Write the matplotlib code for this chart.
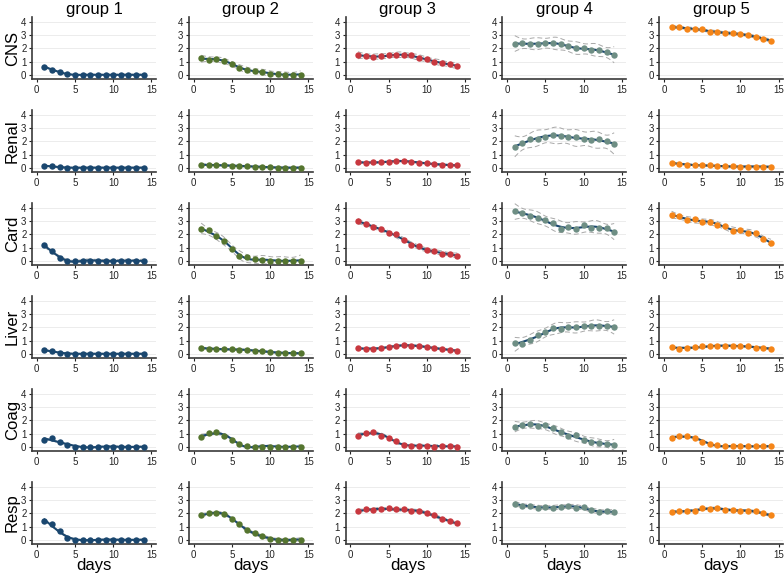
import numpy as np
import matplotlib
matplotlib.use("Agg")
import matplotlib.pyplot as plt

plt.rcParams['font.family'] = ['Liberation Sans', 'DejaVu Sans']

days = np.arange(1, 15)
groups = ['group 1', 'group 2', 'group 3', 'group 4', 'group 5']
organs = ['CNS', 'Renal', 'Card', 'Liver', 'Coag', 'Resp']
point_colors = ['#1a476f', '#55752f', '#c8383f', '#6e8e84', '#f58518']
fit_color = '#1a476f'

# mean score per day, one list per group, rows in the order of `organs`
g1 = [
    [0.62, 0.40, 0.22, 0.07, 0.01, 0.01, 0.01, 0.01, 0.01, 0.01, 0.01, 0.01, 0.01, 0.01],
    [0.16, 0.13, 0.05, 0.03, 0.02, 0.02, 0.02, 0.02, 0.02, 0.02, 0.02, 0.02, 0.02, 0.02],
    [1.18, 0.72, 0.22, 0.03, 0.01, 0.01, 0.01, 0.01, 0.01, 0.01, 0.01, 0.01, 0.01, 0.01],
    [0.28, 0.20, 0.10, 0.03, 0.02, 0.01, 0.01, 0.01, 0.01, 0.01, 0.01, 0.01, 0.01, 0.01],
    [0.50, 0.70, 0.40, 0.12, 0.01, 0.01, 0.01, 0.01, 0.01, 0.01, 0.01, 0.01, 0.01, 0.01],
    [1.42, 1.22, 0.65, 0.15, 0.01, 0.01, 0.01, 0.01, 0.01, 0.01, 0.01, 0.01, 0.01, 0.01],
]
g2 = [
    [1.25, 1.15, 1.20, 1.08, 0.82, 0.55, 0.40, 0.30, 0.22, 0.10, 0.06, 0.03, 0.03, 0.03],
    [0.25, 0.22, 0.20, 0.20, 0.18, 0.15, 0.12, 0.10, 0.08, 0.05, 0.03, 0.02, 0.02, 0.02],
    [2.38, 2.30, 1.90, 1.50, 0.90, 0.40, 0.28, 0.13, 0.05, 0.03, 0.03, 0.03, 0.03, 0.03],
    [0.45, 0.40, 0.38, 0.35, 0.35, 0.32, 0.30, 0.25, 0.20, 0.15, 0.10, 0.08, 0.05, 0.05],
    [0.72, 1.08, 1.12, 0.85, 0.50, 0.20, 0.07, 0.03, 0.03, 0.03, 0.03, 0.03, 0.03, 0.03],
    [1.85, 2.02, 2.05, 1.95, 1.60, 1.18, 0.72, 0.55, 0.28, 0.05, 0.02, 0.02, 0.02, 0.02],
]
g3 = [
    [1.52, 1.40, 1.38, 1.40, 1.52, 1.48, 1.48, 1.50, 1.28, 1.19, 0.98, 0.93, 0.81, 0.67],
    [0.42, 0.40, 0.42, 0.45, 0.45, 0.50, 0.55, 0.45, 0.40, 0.35, 0.30, 0.25, 0.20, 0.20],
    [3.00, 2.80, 2.60, 2.38, 2.12, 2.00, 1.56, 1.20, 1.10, 0.82, 0.74, 0.56, 0.49, 0.41],
    [0.45, 0.35, 0.40, 0.45, 0.55, 0.60, 0.65, 0.60, 0.60, 0.55, 0.45, 0.35, 0.30, 0.25],
    [0.85, 1.07, 1.15, 0.82, 0.68, 0.42, 0.17, 0.10, 0.10, 0.10, 0.03, 0.08, 0.05, 0.03],
    [2.15, 2.35, 2.28, 2.30, 2.38, 2.30, 2.30, 2.18, 2.18, 2.05, 1.85, 1.58, 1.40, 1.25],
]
g4 = [
    [2.35, 2.40, 2.35, 2.33, 2.42, 2.40, 2.30, 2.20, 2.00, 2.02, 1.90, 1.85, 1.70, 1.52],
    [1.60, 1.85, 2.22, 2.20, 2.30, 2.50, 2.45, 2.35, 2.30, 2.18, 2.10, 2.15, 2.02, 1.80],
    [3.74, 3.64, 3.36, 3.23, 3.10, 2.87, 2.41, 2.56, 2.41, 2.72, 2.51, 2.49, 2.49, 2.18],
    [0.83, 0.76, 1.05, 1.43, 1.62, 1.95, 1.88, 2.00, 2.00, 2.14, 2.10, 2.14, 2.10, 2.05],
    [1.52, 1.65, 1.72, 1.58, 1.62, 1.40, 1.10, 0.82, 0.87, 0.52, 0.40, 0.28, 0.25, 0.15],
    [2.72, 2.60, 2.55, 2.45, 2.50, 2.42, 2.50, 2.58, 2.42, 2.48, 2.25, 2.12, 2.15, 2.12],
]
g5 = [
    [3.62, 3.60, 3.50, 3.45, 3.45, 3.28, 3.25, 3.15, 3.15, 3.08, 2.98, 2.90, 2.72, 2.60],
    [0.38, 0.30, 0.25, 0.22, 0.20, 0.20, 0.12, 0.12, 0.12, 0.10, 0.10, 0.10, 0.10, 0.08],
    [3.49, 3.36, 3.10, 3.15, 2.97, 2.95, 2.72, 2.67, 2.26, 2.31, 2.13, 2.10, 1.64, 1.38],
    [0.52, 0.40, 0.43, 0.50, 0.57, 0.57, 0.60, 0.60, 0.62, 0.60, 0.57, 0.48, 0.45, 0.40],
    [0.68, 0.85, 0.82, 0.65, 0.40, 0.25, 0.12, 0.05, 0.05, 0.05, 0.05, 0.05, 0.05, 0.05],
    [2.10, 2.18, 2.18, 2.20, 2.38, 2.30, 2.45, 2.25, 2.28, 2.20, 2.20, 2.15, 2.00, 1.85],
]
all_groups = [g1, g2, g3, g4, g5]

# typical half-width of the 95% CI per panel (rows = organs, cols = groups)
ci_half = [
    [0.05, 0.20, 0.20, 0.45, 0.10],
    [0.04, 0.05, 0.05, 0.60, 0.05],
    [0.10, 0.30, 0.15, 0.45, 0.20],
    [0.04, 0.05, 0.05, 0.40, 0.05],
    [0.05, 0.10, 0.10, 0.30, 0.05],
    [0.05, 0.10, 0.10, 0.15, 0.08],
]

knots = np.array([1.7, 4.0, 6.5, 9.0, 11.5, 13.3])


def rcs_basis(x, t):
    """Restricted cubic spline design matrix (intercept, x, nonlinear terms)."""
    x = np.asarray(x, dtype=float)
    k = len(t)
    cols = [np.ones_like(x), x]
    pos = lambda u: np.clip(u, 0, None) ** 3
    scale = (t[-1] - t[0]) ** 2
    for j in range(k - 2):
        term = (pos(x - t[j])
                - pos(x - t[k - 2]) * (t[k - 1] - t[j]) / (t[k - 1] - t[k - 2])
                + pos(x - t[k - 1]) * (t[k - 2] - t[j]) / (t[k - 1] - t[k - 2]))
        cols.append(term / scale)
    return np.column_stack(cols)


X = rcs_basis(days, knots)
xs = np.linspace(1, 14, 120)
Xs = rcs_basis(xs, knots)
XtX_inv = np.linalg.pinv(X.T @ X)
lev_grid = np.einsum('ij,jk,ik->i', Xs, XtX_inv, Xs)
lev_pts = np.einsum('ij,jk,ik->i', X, XtX_inv, X)
ci_shape = np.sqrt(lev_grid / lev_pts.mean())

fig = plt.figure(figsize=(7.84, 5.76), dpi=100)
W, H = 784.0, 576.0

for c in range(5):
    left = 32 + 156.8 * c
    for r in range(6):
        top = 16.7 + 93 * r
        ax = fig.add_axes([left / W, 1 - (top + 62.6) / H, 124 / W, 62.6 / H])
        y = np.array(all_groups[c][r])
        beta = XtX_inv @ X.T @ y
        fit = Xs @ beta
        hw = ci_half[r][c] * ci_shape

        ax.plot(xs, fit + hw, color='#a8a8a8', lw=0.7, ls=(0, (5, 3)), zorder=2)
        ax.plot(xs, fit - hw, color='#a8a8a8', lw=0.7, ls=(0, (5, 3)), zorder=2)
        ax.plot(xs, fit, color=fit_color, lw=1.5, zorder=3)
        ax.plot(days, y, 'o', color=point_colors[c], ms=4.6, mec='none', zorder=4)

        ax.set_xlim(-0.62, 15.6)
        ax.set_ylim(-0.33, 4.4)
        ax.set_xticks([0, 5, 10, 15])
        ax.set_yticks([0, 1, 2, 3, 4])
        ax.grid(axis='y', color='#ececec', lw=0.7, zorder=0)
        ax.set_axisbelow(True)
        for s in ['top', 'right']:
            ax.spines[s].set_visible(False)
        for s in ['left', 'bottom']:
            ax.spines[s].set_color('#3a3a3a')
            ax.spines[s].set_linewidth(1.2)
        ax.tick_params(labelsize=7, colors='#222222', length=2.5, width=0.8, pad=1.5)

        if c == 0:
            ax.set_ylabel(organs[r], fontsize=12, labelpad=1)
        if r == 5:
            ax.set_xlabel('days', fontsize=12, labelpad=-1)

    # column header, placed in figure pixels so it stays inside the canvas
    fig.text((left + 62) / W, 1 - 9.5 / H, groups[c], fontsize=12,
             ha='center', va='center')

fig.savefig('out.png', dpi=100)
